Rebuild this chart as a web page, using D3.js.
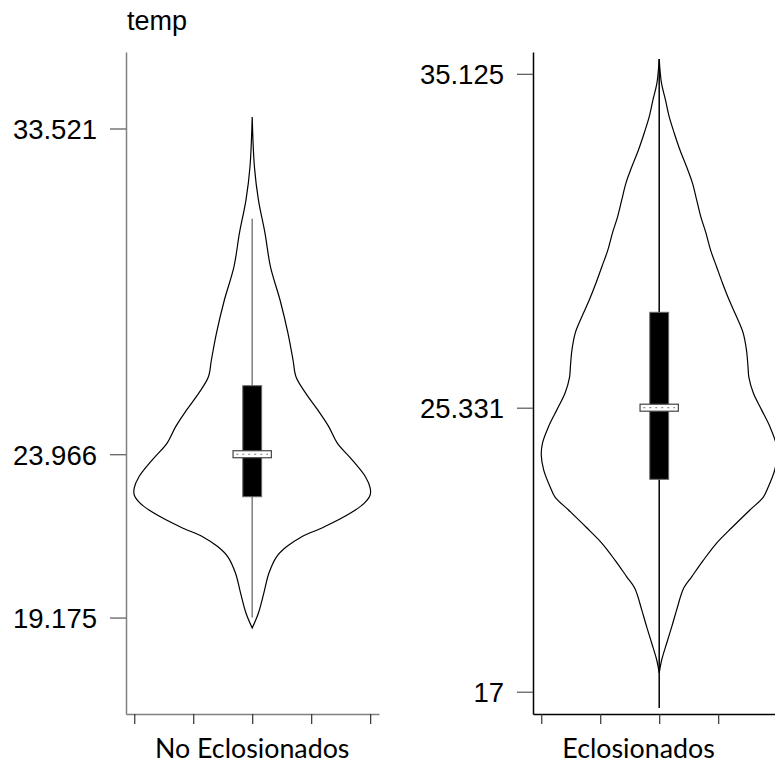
<!DOCTYPE html>
<html>
<head>
<meta charset="utf-8">
<script src="https://cdn.jsdelivr.net/npm/d3@7"></script>
<style>
  body { margin: 0; background: #fff; }
  svg { display: block; }
</style>
</head>
<body>
<div id="chart"></div>
<script>
// Values

const categories = ["No Eclosionados", "Eclosionados"];
const yLabel = "temp";

// tick values on each y axis
const ticksNo = [19.175, 23.966, 33.521];
const ticksSi = [17, 25.331, 35.125];

// violin outline: temperature and relative density (max = 1)
const tempNo = [33.86, 32.39, 31.42, 30.46, 29.46, 28.49, 27.52, 26.73, 26.23, 25.76, 25.26, 24.77, 24.30, 23.80, 23.30, 22.98, 22.77, 22.54, 22.24, 21.83, 21.54, 21.25, 20.95, 20.48, 19.90, 19.31, 18.87];
const densNo = [0, 0.019, 0.053, 0.108, 0.155, 0.236, 0.303, 0.346, 0.372, 0.453, 0.557, 0.650, 0.720, 0.847, 0.961, 1.0, 1.0, 0.953, 0.834, 0.608, 0.417, 0.290, 0.205, 0.142, 0.099, 0.053, 0];

const tempSi = [35.56, 34.86, 34.36, 33.86, 33.39, 32.89, 32.39, 31.92, 31.42, 30.93, 30.46, 29.96, 29.46, 28.99, 28.49, 27.99, 27.52, 27.02, 26.53, 26.23, 25.76, 25.26, 24.77, 24.30, 23.94, 23.50, 23.01, 22.71, 22.33, 21.83, 21.36, 20.86, 20.37, 20.04, 19.40, 18.90, 18.43, 17.93, 17.55];
const densSi = [0, 0.019, 0.053, 0.085, 0.127, 0.176, 0.233, 0.282, 0.318, 0.353, 0.396, 0.435, 0.487, 0.536, 0.593, 0.657, 0.712, 0.740, 0.753, 0.760, 0.798, 0.869, 0.939, 0.989, 1.0, 0.979, 0.925, 0.883, 0.769, 0.621, 0.487, 0.375, 0.275, 0.208, 0.148, 0.106, 0.064, 0.021, 0];

// box: [q1, q3], whiskers: [min, max], medians
const boxNo = [22.72, 25.976];
const boxSi = [23.23, 28.13];
const whiskNo = [19.175, 30.87];
const whiskSi = [16.52, 35.56];
const medians = [23.966, 25.331];

const w = 775;
const h = 765;

const svg = d3.select("#chart")
  .append("svg")
  .attr("width", w)
  .attr("height", h)
  .style("font-family", "'Liberation Sans', Arial, sans-serif");

// shared y scale for both panels
const yScale = d3.scaleLinear()
  .domain([16.346, 35.765])
  .range([714, 52]);

const panels = [
  { name: categories[0], left: 126, ticks: ticksNo, temp: tempNo, dens: densNo,
    box: boxNo, whisk: whiskNo, median: medians[0], axisColor: "#808080", whiskColor: "#808080", labelShift: 0 },
  { name: categories[1], left: 533, ticks: ticksSi, temp: tempSi, dens: densSi,
    box: boxSi, whisk: whiskSi, median: medians[1], axisColor: "#000", whiskColor: "#000", labelShift: -0.35 }
];

const panelWidth = 253;

panels.forEach(p => {
  const xScale = d3.scaleLinear()
    .domain([-2.14, 2.15])
    .range([p.left, p.left + panelWidth]);

  const g = svg.append("g");

  // y axis
  const yAxis = d3.axisLeft(yScale)
    .tickValues(p.ticks)
    .tickSize(16)
    .tickSizeOuter(0)
    .tickPadding(13)
    .tickFormat(d => String(d));

  const ya = g.append("g")
    .attr("transform", "translate(" + p.left + ",0)")
    .call(yAxis);
  ya.select(".domain").attr("stroke", p.axisColor).attr("stroke-width", 1.5);
  ya.selectAll(".tick line").attr("stroke", "#555").attr("stroke-width", 1.2);
  ya.selectAll(".tick text")
    .attr("fill", "#000")
    .style("font-size", "27.5px")
    .style("font-family", "'Liberation Sans', Arial, sans-serif")
    .attr("dy", "0.36em");

  // x axis
  const xAxis = d3.axisBottom(xScale)
    .tickValues([-2, -1, 0, 1, 2])
    .tickSize(10)
    .tickSizeOuter(0)
    .tickFormat("");

  const xa = g.append("g")
    .attr("transform", "translate(0," + yScale.range()[0] + ")")
    .call(xAxis);
  xa.select(".domain").attr("stroke", p.axisColor).attr("stroke-width", 1.5);
  xa.selectAll(".tick line").attr("stroke", "#333").attr("stroke-width", 1.2);

  // category label
  g.append("text")
    .attr("x", xScale(p.labelShift))
    .attr("y", 758)
    .attr("text-anchor", "middle")
    .style("font-family", "Lato, 'Open Sans', sans-serif")
    .style("font-size", "26.8px")
    .text(p.name);

  // violin
  const pts = p.temp.map((t, i) => ({ t: t, d: p.dens[i] }));
  const area = d3.area()
    .y(d => yScale(d.t))
    .x0(d => xScale(-2 * d.d))
    .x1(d => xScale(2 * d.d))
    .curve(d3.curveCatmullRom.alpha(0.5));

  g.append("path")
    .datum(pts)
    .attr("d", area)
    .attr("fill", "none")
    .attr("stroke", "#000")
    .attr("stroke-width", 1.2);

  // whisker line
  g.append("line")
    .attr("x1", xScale(0))
    .attr("x2", xScale(0))
    .attr("y1", yScale(p.whisk[0]))
    .attr("y2", yScale(p.whisk[1]))
    .attr("stroke", p.whiskColor)
    .attr("stroke-width", 1.5);

  // box
  g.append("rect")
    .attr("x", xScale(-0.16))
    .attr("width", xScale(0.16) - xScale(-0.16))
    .attr("y", yScale(p.box[1]))
    .attr("height", yScale(p.box[0]) - yScale(p.box[1]))
    .attr("fill", "#000")
    .attr("stroke", "#666")
    .attr("stroke-width", 1);

  // median marker
  const medY = yScale(p.median);
  g.append("rect")
    .attr("x", xScale(-0.325))
    .attr("width", xScale(0.325) - xScale(-0.325))
    .attr("y", medY - 3.5)
    .attr("height", 7)
    .attr("fill", "#fff")
    .attr("stroke", "#444")
    .attr("stroke-width", 1.2);

  g.append("line")
    .attr("x1", xScale(-0.27))
    .attr("x2", xScale(0.27))
    .attr("y1", medY)
    .attr("y2", medY)
    .attr("stroke", "#777")
    .attr("stroke-width", 1)
    .attr("stroke-dasharray", "2,4");
});

// y axis title
svg.append("text")
  .attr("x", 127)
  .attr("y", 30)
  .style("font-size", "27px")
  .text(yLabel);
</script>
</body>
</html>
